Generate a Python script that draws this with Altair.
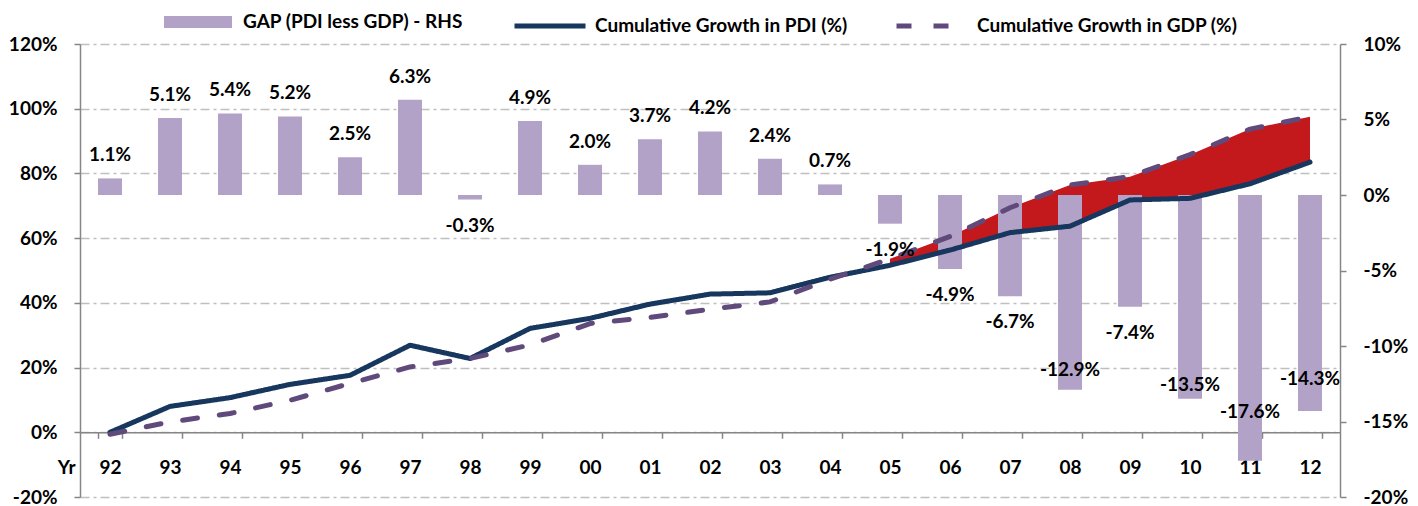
import altair as alt
import pandas as pd

# ---------------- data ----------------
years = ["92", "93", "94", "95", "96", "97", "98", "99", "00", "01", "02",
         "03", "04", "05", "06", "07", "08", "09", "10", "11", "12"]
pdi_growth = [0.0, 8.0, 10.7, 14.8, 17.6, 26.9, 22.8, 32.1, 35.2, 39.6, 42.7,
              43.1, 47.9, 51.6, 56.3, 61.7, 63.7, 71.8, 72.3, 76.8, 83.5]
gdp_growth = [-0.6, 3.2, 5.8, 9.9, 15.1, 20.2, 22.8, 27.0, 33.6, 35.5, 38.0,
              40.3, 47.3, 53.6, 60.5, 69.4, 76.4, 79.0, 85.8, 93.7, 97.5]
gap_rhs = [1.1, 5.1, 5.4, 5.2, 2.5, 6.3, -0.3, 4.9, 2.0, 3.7, 4.2,
           2.4, 0.7, -1.9, -4.9, -6.7, -12.9, -7.4, -13.5, -17.6, -14.3]
shade_from = "05"  # red shading between the two lines starts here

# labels of the deepest bars were moved up by hand in the original (RHS units)
moved_labels = {"08": -11.6, "10": -12.6, "11": -14.4, "12": -12.2}

GAP_NAME = "GAP (PDI less GDP) - RHS"
PDI_NAME = "Cumulative Growth in PDI (%)"
GDP_NAME = "Cumulative Growth in GDP (%)"

FONT = "Lato"
FS = 19
AXIS_GREY = "#868686"

# ---------------- tables ----------------
df = pd.DataFrame({"year": years, "pdi": pdi_growth, "gdp": gdp_growth, "gap": gap_rhs})
df["label"] = [f"{v:.1f}%" for v in gap_rhs]
df["label_at"] = [moved_labels.get(y, v + 1.54 if v >= 0 else v - 1.72)
                  for y, v in zip(years, gap_rhs)]
df["bar_series"] = GAP_NAME

shade_df = df.iloc[years.index(shade_from):].copy()
pdi_df = pd.DataFrame({"year": years, "value": pdi_growth, "series": PDI_NAME})
gdp_df = pd.DataFrame({"year": years, "value": gdp_growth, "series": GDP_NAME})

# ---------------- shared encodings ----------------
x_axis = alt.Axis(
    orient="bottom", offset=-64.7, domainColor=AXIS_GREY, domainWidth=1.5,
    tickColor=AXIS_GREY, tickWidth=1.5, tickSize=6, tickBand="extent",
    labelAngle=0, labelPadding=29, labelBaseline="middle", labelFont=FONT,
    labelFontSize=FS, labelFontWeight="bold", labelColor="#000",
    title="Yr", titleAngle=0, titleX=-5, titleY=35, titleAlign="right",
    titleBaseline="middle", titleFont=FONT, titleFontSize=FS,
    titleFontWeight="bold", titleColor="#000", grid=False,
)
x_scale = alt.Scale(type="band", paddingInner=0.6, paddingOuter=0.3)


def X():
    return alt.X("year:N", sort=years, scale=x_scale, axis=x_axis)


left_scale = alt.Scale(domain=[-20, 120], nice=False, zero=False)
right_scale = alt.Scale(domain=[-20, 10], nice=False, zero=False)

left_axis = alt.Axis(
    orient="left", values=list(range(-20, 121, 20)), labelExpr="datum.value + '%'",
    grid=True, gridDash=[9, 4, 3, 4], gridColor="#bfbfbf", gridWidth=1.3,
    domainColor=AXIS_GREY, domainWidth=1.5, tickColor=AXIS_GREY, tickWidth=1.5,
    tickSize=6, labelPadding=17, labelFont=FONT, labelFontSize=FS,
    labelFontWeight="bold", labelColor="#000", title=None,
)
right_axis = alt.Axis(
    orient="right", values=list(range(-20, 11, 5)), labelExpr="datum.value + '%'",
    grid=False, domainColor=AXIS_GREY, domainWidth=1.5, tickColor=AXIS_GREY,
    tickWidth=1.5, tickSize=6, labelPadding=17, labelFont=FONT, labelFontSize=FS,
    labelFontWeight="bold", labelColor="#000", title=None,
)

LEGEND_Y = -56
line_legend = alt.Legend(
    orient="none", legendX=432, legendY=LEGEND_Y, direction="horizontal", title=None,
    symbolType="stroke", symbolSize=5041, symbolStrokeWidth=5, columnPadding=38,
    labelOffset=7, labelFont=FONT, labelFontSize=FS, labelFontWeight="bold",
    labelColor="#000", padding=0, labelLimit=400,
)
stroke_enc = alt.Stroke("series:N", scale=alt.Scale(domain=[PDI_NAME, GDP_NAME],
                                                    range=["#17375e", "#604a7b"]),
                        legend=line_legend)
dash_enc = alt.StrokeDash("series:N", scale=alt.Scale(domain=[PDI_NAME, GDP_NAME],
                                                      range=[[1, 0], [15, 22]]),
                          legend=line_legend)

# ---------------- layers ----------------
shade = alt.Chart(shade_df).mark_area(color="#c3181c", opacity=1).encode(
    x=X(),
    y=alt.Y("pdi:Q", scale=left_scale, axis=left_axis),
    y2="gdp:Q",
)

bars = alt.Chart(df).mark_bar().encode(
    x=X(),
    y=alt.Y("gap:Q", scale=right_scale, axis=right_axis),
    y2=alt.Y2(datum=0),
    fill=alt.Fill("bar_series:N", scale=alt.Scale(domain=[GAP_NAME], range=["#b3a2c7"]),
                  legend=alt.Legend(orient="none", legendX=84, legendY=LEGEND_Y,
                                    direction="horizontal", title=None,
                                    symbolType="M-1,-0.18L1,-0.18L1,0.18L-1,0.18Z",
                                    symbolSize=4624, symbolStrokeWidth=0,
                                    symbolOpacity=1,
                                    labelOffset=11, labelFont=FONT, labelFontSize=FS,
                                    labelFontWeight="bold", labelColor="#000",
                                    padding=0, labelLimit=400)),
)

pdi_line = alt.Chart(pdi_df).mark_line(strokeWidth=5, strokeCap="round", strokeJoin="round").encode(
    x=X(),
    y=alt.Y("value:Q", scale=left_scale, axis=None),
    stroke=stroke_enc,
    strokeDash=dash_enc,
)

gdp_line = alt.Chart(gdp_df).mark_line(strokeWidth=5, strokeCap="round", strokeJoin="round").encode(
    x=X(),
    y=alt.Y("value:Q", scale=left_scale, axis=None),
    stroke=stroke_enc,
    strokeDash=dash_enc,
)

labels = alt.Chart(df).mark_text(font=FONT, fontSize=FS, fontWeight="bold",
                                 color="#000", baseline="middle", align="center").encode(
    x=X(),
    y=alt.Y("label_at:Q", scale=right_scale, axis=None),
    text="label:N",
)

chart = alt.layer(shade, bars, pdi_line, gdp_line, labels).resolve_scale(
    y="independent"
).properties(
    width=1260, height=453,
    autosize=alt.AutoSizeParams(type="none"),
    padding={"left": 72, "top": 36, "right": 70, "bottom": 14},
    background="white",
).configure_view(stroke=None)

chart.save("out.html", embed_options={"renderer": "svg", "actions": False})
